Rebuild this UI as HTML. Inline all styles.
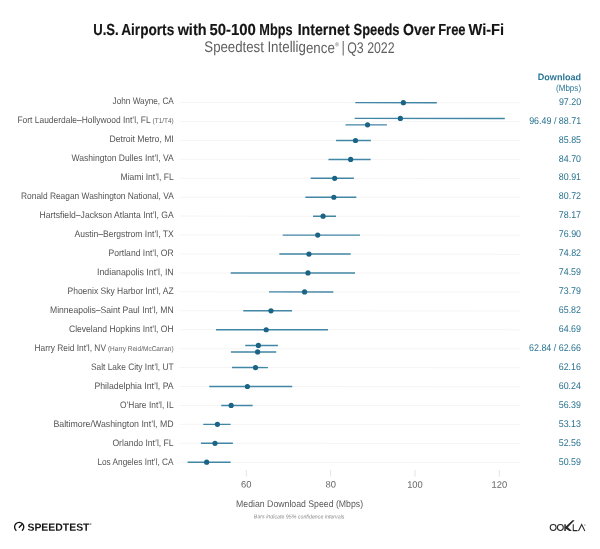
<!DOCTYPE html>
<html><head><meta charset="utf-8"><title>U.S. Airports Wi-Fi</title>
<style>
html,body{margin:0;padding:0;background:#fff;}
body{width:600px;height:549px;overflow:hidden;font-family:"Liberation Sans",sans-serif;}
svg{display:block;will-change:transform;}
text{font-family:"Liberation Sans",sans-serif;}
.lab{font-size:9.4px;fill:#545454;}
.sm{font-size:7px;fill:#5e5e5e;}
.val{font-size:9.8px;fill:#28728f;}
.tick{font-size:9.4px;fill:#666;}
</style></head><body>
<svg width="600" height="549" viewBox="0 0 600 549">
<rect width="600" height="549" fill="#ffffff"/>
<g transform="rotate(0.03 300 275)">
<text x="93.1" y="34.7" font-size="16" font-weight="bold" fill="#151515" stroke="#151515" stroke-width="0.15" textLength="25.5" lengthAdjust="spacingAndGlyphs">U.S.</text>
<text x="121.1" y="34.7" font-size="16" font-weight="bold" fill="#151515" stroke="#151515" stroke-width="0.15" textLength="53.0" lengthAdjust="spacingAndGlyphs">Airports</text>
<text x="177.5" y="34.7" font-size="16" font-weight="bold" fill="#151515" stroke="#151515" stroke-width="0.15" textLength="28.9" lengthAdjust="spacingAndGlyphs">with</text>
<text x="209.4" y="34.7" font-size="16" font-weight="bold" fill="#151515" stroke="#151515" stroke-width="0.15" textLength="46.4" lengthAdjust="spacingAndGlyphs">50-100</text>
<text x="259.2" y="34.7" font-size="16" font-weight="bold" fill="#151515" stroke="#151515" stroke-width="0.15" textLength="33.2" lengthAdjust="spacingAndGlyphs">Mbps</text>
<text x="297.5" y="34.7" font-size="16" font-weight="bold" fill="#151515" stroke="#151515" stroke-width="0.15" textLength="52.0" lengthAdjust="spacingAndGlyphs">Internet</text>
<text x="353.4" y="34.7" font-size="16" font-weight="bold" fill="#151515" stroke="#151515" stroke-width="0.15" textLength="46.0" lengthAdjust="spacingAndGlyphs">Speeds</text>
<text x="402.9" y="34.7" font-size="16" font-weight="bold" fill="#151515" stroke="#151515" stroke-width="0.15" textLength="32.1" lengthAdjust="spacingAndGlyphs">Over</text>
<text x="438.1" y="34.7" font-size="16" font-weight="bold" fill="#151515" stroke="#151515" stroke-width="0.15" textLength="27.3" lengthAdjust="spacingAndGlyphs">Free</text>
<text x="468.4" y="34.7" font-size="16" font-weight="bold" fill="#151515" stroke="#151515" stroke-width="0.15" textLength="35.5" lengthAdjust="spacingAndGlyphs">Wi-Fi</text>
<text x="204.2" y="52.5" font-size="15.4" fill="#606060" textLength="59.6" lengthAdjust="spacingAndGlyphs">Speedtest</text>
<text x="267.3" y="52.5" font-size="15.4" fill="#606060" textLength="67.4" lengthAdjust="spacingAndGlyphs">Intelligence</text>
<text x="334.8" y="46.2" font-size="5.4" fill="#606060">®</text>
<text x="341.1" y="52.3" font-size="15.4" fill="#858585">|</text>
<text x="347.1" y="52.5" font-size="15.4" fill="#606060" textLength="47.4" lengthAdjust="spacingAndGlyphs">Q3 2022</text>
<text x="537.7" y="80" font-size="9.3" font-weight="bold" fill="#2b7797" textLength="43.3" lengthAdjust="spacingAndGlyphs">Download</text>
<text x="555.9" y="91.3" font-size="9" fill="#2b7797" textLength="25.1" lengthAdjust="spacingAndGlyphs">(Mbps)</text>

<line x1="179.5" y1="102.60" x2="520.6" y2="102.60" stroke="#f5f5f5" stroke-width="1"/>
<line x1="179.5" y1="121.53" x2="520.6" y2="121.53" stroke="#f5f5f5" stroke-width="1"/>
<line x1="179.5" y1="140.46" x2="520.6" y2="140.46" stroke="#f5f5f5" stroke-width="1"/>
<line x1="179.5" y1="159.39" x2="520.6" y2="159.39" stroke="#f5f5f5" stroke-width="1"/>
<line x1="179.5" y1="178.32" x2="520.6" y2="178.32" stroke="#f5f5f5" stroke-width="1"/>
<line x1="179.5" y1="197.25" x2="520.6" y2="197.25" stroke="#f5f5f5" stroke-width="1"/>
<line x1="179.5" y1="216.18" x2="520.6" y2="216.18" stroke="#f5f5f5" stroke-width="1"/>
<line x1="179.5" y1="235.11" x2="520.6" y2="235.11" stroke="#f5f5f5" stroke-width="1"/>
<line x1="179.5" y1="254.04" x2="520.6" y2="254.04" stroke="#f5f5f5" stroke-width="1"/>
<line x1="179.5" y1="272.97" x2="520.6" y2="272.97" stroke="#f5f5f5" stroke-width="1"/>
<line x1="179.5" y1="291.90" x2="520.6" y2="291.90" stroke="#f5f5f5" stroke-width="1"/>
<line x1="179.5" y1="310.83" x2="520.6" y2="310.83" stroke="#f5f5f5" stroke-width="1"/>
<line x1="179.5" y1="329.76" x2="520.6" y2="329.76" stroke="#f5f5f5" stroke-width="1"/>
<line x1="179.5" y1="348.69" x2="520.6" y2="348.69" stroke="#f5f5f5" stroke-width="1"/>
<line x1="179.5" y1="367.62" x2="520.6" y2="367.62" stroke="#f5f5f5" stroke-width="1"/>
<line x1="179.5" y1="386.55" x2="520.6" y2="386.55" stroke="#f5f5f5" stroke-width="1"/>
<line x1="179.5" y1="405.48" x2="520.6" y2="405.48" stroke="#f5f5f5" stroke-width="1"/>
<line x1="179.5" y1="424.41" x2="520.6" y2="424.41" stroke="#f5f5f5" stroke-width="1"/>
<line x1="179.5" y1="443.34" x2="520.6" y2="443.34" stroke="#f5f5f5" stroke-width="1"/>
<line x1="179.5" y1="462.27" x2="520.6" y2="462.27" stroke="#f5f5f5" stroke-width="1"/>
<line x1="246.45" y1="470" x2="246.45" y2="476.6" stroke="#e4e4e4" stroke-width="1"/>
<text class="tick" x="246.45" y="487.6" text-anchor="middle">60</text>
<line x1="330.77" y1="470" x2="330.77" y2="476.6" stroke="#e4e4e4" stroke-width="1"/>
<text class="tick" x="330.77" y="487.6" text-anchor="middle">80</text>
<line x1="415.09" y1="470" x2="415.09" y2="476.6" stroke="#e4e4e4" stroke-width="1"/>
<text class="tick" x="415.09" y="487.6" text-anchor="middle">100</text>
<line x1="499.41" y1="470" x2="499.41" y2="476.6" stroke="#e4e4e4" stroke-width="1"/>
<text class="tick" x="499.41" y="487.6" text-anchor="middle">120</text>
<text class="lab" x="112.5" y="104.45" textLength="61.2" lengthAdjust="spacingAndGlyphs">John Wayne, CA</text>
<text class="val" x="558.8" y="104.45" textLength="22.2" lengthAdjust="spacingAndGlyphs">97.20</text>
<line x1="355.2" y1="102.60" x2="436.7" y2="102.60" stroke="#4286a5" stroke-width="1.45"/>
<circle cx="403.29" cy="102.60" r="2.6" fill="#1b6485"/>
<text class="lab" x="17.4" y="123.43" textLength="133.1" lengthAdjust="spacingAndGlyphs">Fort Lauderdale–Hollywood Int’l, FL</text>
<text class="sm" x="152.5" y="123.23" textLength="21.2" lengthAdjust="spacingAndGlyphs">(T1/T4)</text>
<text class="val" x="529.1" y="123.43" textLength="51.9" lengthAdjust="spacingAndGlyphs">96.49 / 88.71</text>
<line x1="354.6" y1="118.33" x2="504.7" y2="118.33" stroke="#4286a5" stroke-width="1.45"/>
<circle cx="400.29" cy="118.33" r="2.6" fill="#1b6485"/>
<line x1="345.4" y1="124.83" x2="386.8" y2="124.83" stroke="#4286a5" stroke-width="1.45"/>
<circle cx="367.49" cy="124.83" r="2.6" fill="#1b6485"/>
<text class="lab" x="109.5" y="142.40" textLength="64.2" lengthAdjust="spacingAndGlyphs">Detroit Metro, MI</text>
<text class="val" x="558.8" y="142.40" textLength="22.2" lengthAdjust="spacingAndGlyphs">85.85</text>
<line x1="336" y1="140.46" x2="370.8" y2="140.46" stroke="#4286a5" stroke-width="1.45"/>
<circle cx="355.43" cy="140.46" r="2.6" fill="#1b6485"/>
<text class="lab" x="71.5" y="161.38" textLength="102.2" lengthAdjust="spacingAndGlyphs">Washington Dulles Int’l, VA</text>
<text class="val" x="558.8" y="161.38" textLength="22.2" lengthAdjust="spacingAndGlyphs">84.70</text>
<line x1="328.4" y1="159.39" x2="370.6" y2="159.39" stroke="#4286a5" stroke-width="1.45"/>
<circle cx="350.59" cy="159.39" r="2.6" fill="#1b6485"/>
<text class="lab" x="120.5" y="180.35" textLength="53.2" lengthAdjust="spacingAndGlyphs">Miami Int’l, FL</text>
<text class="val" x="558.8" y="180.35" textLength="22.2" lengthAdjust="spacingAndGlyphs">80.91</text>
<line x1="310.6" y1="178.32" x2="353.8" y2="178.32" stroke="#4286a5" stroke-width="1.45"/>
<circle cx="334.61" cy="178.32" r="2.6" fill="#1b6485"/>
<text class="lab" x="21" y="199.32" textLength="152.7" lengthAdjust="spacingAndGlyphs">Ronald Reagan Washington National, VA</text>
<text class="val" x="558.8" y="199.32" textLength="22.2" lengthAdjust="spacingAndGlyphs">80.72</text>
<line x1="305.3" y1="197.25" x2="356.3" y2="197.25" stroke="#4286a5" stroke-width="1.45"/>
<circle cx="333.81" cy="197.25" r="2.6" fill="#1b6485"/>
<text class="lab" x="39.5" y="218.30" textLength="134.2" lengthAdjust="spacingAndGlyphs">Hartsfield–Jackson Atlanta Int’l, GA</text>
<text class="val" x="558.8" y="218.30" textLength="22.2" lengthAdjust="spacingAndGlyphs">78.17</text>
<line x1="313" y1="216.18" x2="336" y2="216.18" stroke="#4286a5" stroke-width="1.45"/>
<circle cx="323.05" cy="216.18" r="2.6" fill="#1b6485"/>
<text class="lab" x="74.5" y="237.28" textLength="99.2" lengthAdjust="spacingAndGlyphs">Austin–Bergstrom Int’l, TX</text>
<text class="val" x="558.8" y="237.28" textLength="22.2" lengthAdjust="spacingAndGlyphs">76.90</text>
<line x1="282.7" y1="235.11" x2="360" y2="235.11" stroke="#4286a5" stroke-width="1.45"/>
<circle cx="317.70" cy="235.11" r="2.6" fill="#1b6485"/>
<text class="lab" x="108.5" y="256.25" textLength="65.2" lengthAdjust="spacingAndGlyphs">Portland Int’l, OR</text>
<text class="val" x="558.8" y="256.25" textLength="22.2" lengthAdjust="spacingAndGlyphs">74.82</text>
<line x1="279.3" y1="254.04" x2="350.7" y2="254.04" stroke="#4286a5" stroke-width="1.45"/>
<circle cx="308.93" cy="254.04" r="2.6" fill="#1b6485"/>
<text class="lab" x="97" y="275.23" textLength="76.7" lengthAdjust="spacingAndGlyphs">Indianapolis Int’l, IN</text>
<text class="val" x="558.8" y="275.23" textLength="22.2" lengthAdjust="spacingAndGlyphs">74.59</text>
<line x1="230.7" y1="272.97" x2="355" y2="272.97" stroke="#4286a5" stroke-width="1.45"/>
<circle cx="307.96" cy="272.97" r="2.6" fill="#1b6485"/>
<text class="lab" x="67.5" y="294.20" textLength="106.2" lengthAdjust="spacingAndGlyphs">Phoenix Sky Harbor Int’l, AZ</text>
<text class="val" x="558.8" y="294.20" textLength="22.2" lengthAdjust="spacingAndGlyphs">73.79</text>
<line x1="269" y1="291.90" x2="333.3" y2="291.90" stroke="#4286a5" stroke-width="1.45"/>
<circle cx="304.59" cy="291.90" r="2.6" fill="#1b6485"/>
<text class="lab" x="50" y="313.18" textLength="123.7" lengthAdjust="spacingAndGlyphs">Minneapolis–Saint Paul Int’l, MN</text>
<text class="val" x="558.8" y="313.18" textLength="22.2" lengthAdjust="spacingAndGlyphs">65.82</text>
<line x1="243.3" y1="310.83" x2="292" y2="310.83" stroke="#4286a5" stroke-width="1.45"/>
<circle cx="270.99" cy="310.83" r="2.6" fill="#1b6485"/>
<text class="lab" x="69" y="332.15" textLength="104.7" lengthAdjust="spacingAndGlyphs">Cleveland Hopkins Int’l, OH</text>
<text class="val" x="558.8" y="332.15" textLength="22.2" lengthAdjust="spacingAndGlyphs">64.69</text>
<line x1="216" y1="329.76" x2="328" y2="329.76" stroke="#4286a5" stroke-width="1.45"/>
<circle cx="266.22" cy="329.76" r="2.6" fill="#1b6485"/>
<text class="lab" x="34.5" y="351.12" textLength="71.5" lengthAdjust="spacingAndGlyphs">Harry Reid Int’l, NV</text>
<text class="sm" x="108" y="350.93" textLength="65.7" lengthAdjust="spacingAndGlyphs">(Harry Reid/McCarran)</text>
<text class="val" x="529.1" y="351.12" textLength="51.9" lengthAdjust="spacingAndGlyphs">62.84 / 62.66</text>
<line x1="245.3" y1="345.49" x2="278" y2="345.49" stroke="#4286a5" stroke-width="1.45"/>
<circle cx="258.42" cy="345.49" r="2.6" fill="#1b6485"/>
<line x1="231" y1="351.99" x2="276.3" y2="351.99" stroke="#4286a5" stroke-width="1.45"/>
<circle cx="257.66" cy="351.99" r="2.6" fill="#1b6485"/>
<text class="lab" x="91" y="370.10" textLength="82.7" lengthAdjust="spacingAndGlyphs">Salt Lake City Int’l, UT</text>
<text class="val" x="558.8" y="370.10" textLength="22.2" lengthAdjust="spacingAndGlyphs">62.16</text>
<line x1="232" y1="367.62" x2="268" y2="367.62" stroke="#4286a5" stroke-width="1.45"/>
<circle cx="255.56" cy="367.62" r="2.6" fill="#1b6485"/>
<text class="lab" x="94.5" y="389.07" textLength="79.2" lengthAdjust="spacingAndGlyphs">Philadelphia Int’l, PA</text>
<text class="val" x="558.8" y="389.07" textLength="22.2" lengthAdjust="spacingAndGlyphs">60.24</text>
<line x1="209.3" y1="386.55" x2="292.3" y2="386.55" stroke="#4286a5" stroke-width="1.45"/>
<circle cx="247.46" cy="386.55" r="2.6" fill="#1b6485"/>
<text class="lab" x="120" y="408.05" textLength="53.7" lengthAdjust="spacingAndGlyphs">O’Hare Int’l, IL</text>
<text class="val" x="558.8" y="408.05" textLength="22.2" lengthAdjust="spacingAndGlyphs">56.39</text>
<line x1="221.3" y1="405.48" x2="252.7" y2="405.48" stroke="#4286a5" stroke-width="1.45"/>
<circle cx="231.23" cy="405.48" r="2.6" fill="#1b6485"/>
<text class="lab" x="53.5" y="427.03" textLength="120.2" lengthAdjust="spacingAndGlyphs">Baltimore/Washington Int’l, MD</text>
<text class="val" x="558.8" y="427.03" textLength="22.2" lengthAdjust="spacingAndGlyphs">53.13</text>
<line x1="203.3" y1="424.41" x2="230.7" y2="424.41" stroke="#4286a5" stroke-width="1.45"/>
<circle cx="217.49" cy="424.41" r="2.6" fill="#1b6485"/>
<text class="lab" x="112.5" y="446.00" textLength="61.2" lengthAdjust="spacingAndGlyphs">Orlando Int’l, FL</text>
<text class="val" x="558.8" y="446.00" textLength="22.2" lengthAdjust="spacingAndGlyphs">52.56</text>
<line x1="201" y1="443.34" x2="233" y2="443.34" stroke="#4286a5" stroke-width="1.45"/>
<circle cx="215.08" cy="443.34" r="2.6" fill="#1b6485"/>
<text class="lab" x="97.5" y="464.98" textLength="76.2" lengthAdjust="spacingAndGlyphs">Los Angeles Int’l, CA</text>
<text class="val" x="558.8" y="464.98" textLength="22.2" lengthAdjust="spacingAndGlyphs">50.59</text>
<line x1="187.7" y1="462.27" x2="230.7" y2="462.27" stroke="#4286a5" stroke-width="1.45"/>
<circle cx="206.78" cy="462.27" r="2.6" fill="#1b6485"/>
<text x="236.2" y="506.6" font-size="9.6" fill="#5a5a5a" textLength="127" lengthAdjust="spacingAndGlyphs">Median Download Speed (Mbps)</text>
<text x="254" y="518.4" font-size="5.6" font-style="italic" fill="#8a8a8a" textLength="90.6" lengthAdjust="spacingAndGlyphs">Bars indicate 95% confidence intervals</text>
<!-- speedtest logo -->
<g fill="none" stroke="#151515" stroke-width="1.35" stroke-linecap="round">
<path d="M16.1 530.4 A4.6 4.6 0 1 1 22.5 530.4"/>
<path d="M19.4 527.3 L21.8 524.8" stroke-width="1.4"/>
</g>
<text x="27.6" y="530.8" font-size="10.4" font-weight="bold" fill="#151515" textLength="62" lengthAdjust="spacingAndGlyphs">SPEEDTEST</text>
<text x="89.8" y="525.2" font-size="2.6" fill="#151515">®</text>
<!-- ookla logo -->
<g fill="none" stroke="#2a2a2a" stroke-width="1.05">
<circle cx="553.3" cy="527.4" r="2.95"/>
<circle cx="560.5" cy="527.4" r="2.95"/>
<path d="M565.2 524.2 V530.8" stroke-width="1.5"/>
<path d="M573.4 524.2 V530.5 H577.6"/>
<path d="M578.6 530.8 L581.8 524.4 L585 530.8"/>
</g>
<path d="M564.8 527.4 L572.6 520.0 L574.8 520.0 L568.0 527.2 L572.0 530.8 L569.4 530.8 L565.6 528.4 Z" fill="#2a2a2a"/>
<text x="584.2" y="525.6" font-size="2.2" fill="#555">®</text>
</g>
</svg>
</body></html>
